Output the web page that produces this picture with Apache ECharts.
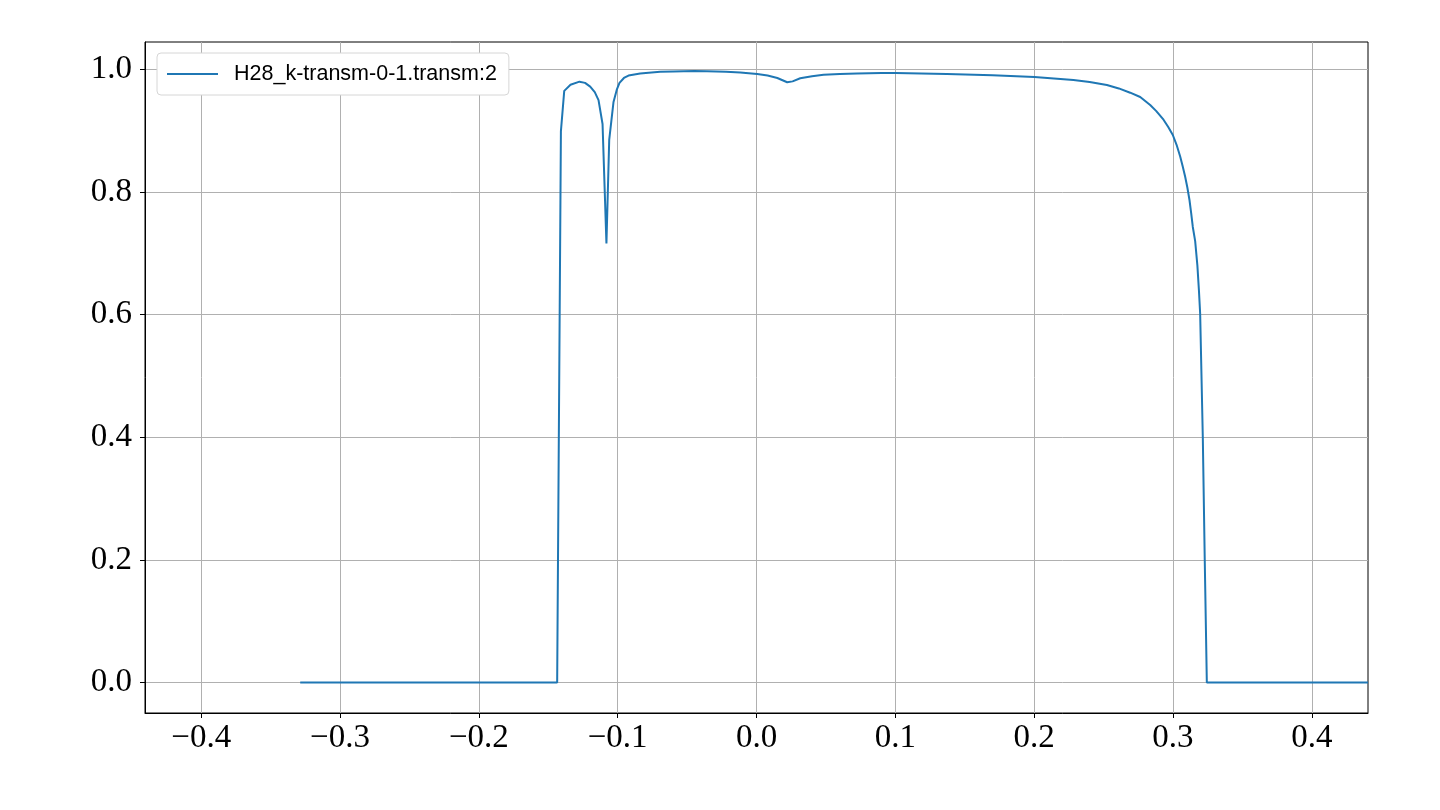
<!DOCTYPE html>
<html>
<head>
<meta charset="utf-8">
<script src="https://cdn.jsdelivr.net/npm/echarts@6/dist/echarts.min.js"></script>
<style>
html,body{margin:0;padding:0;background:#fff;}
#chart{width:1440px;height:810px;}
</style>
</head>
<body>
<div id="chart"></div>
<script>
// Series data
const seriesName = 'H28_k-transm-0-1.transm:2';
const xValues = [
  -0.3287, -0.1436, -0.1409, -0.1385, -0.1340, -0.1275, -0.1235, -0.1198, -0.1165, -0.1138,
  -0.1109, -0.1081, -0.1061, -0.1030, -0.1005, -0.0987, -0.0955, -0.0922, -0.0838, -0.0694,
  -0.0598, -0.0450, -0.0357, -0.0220, -0.0117, 0.0005, 0.0080, 0.0150, 0.0221, 0.0260,
  0.0315, 0.0400, 0.0483, 0.0600, 0.0724, 0.0900, 0.1000, 0.1371, 0.1700, 0.2002,
  0.2283, 0.2400, 0.2524, 0.2610, 0.2692, 0.2764, 0.2836, 0.2880, 0.2932, 0.2966,
  0.2999, 0.3026, 0.3052, 0.3070, 0.3088, 0.3104, 0.3119, 0.3131, 0.3143, 0.3160,
  0.3176, 0.3187, 0.3196, 0.3215, 0.3229, 0.3244, 0.4405
];
const transm = [
  0, 0, 0.899, 0.965, 0.975, 0.980, 0.978, 0.972, 0.963, 0.950,
  0.911, 0.716, 0.885, 0.947, 0.968, 0.978, 0.986, 0.990, 0.9935, 0.996,
  0.9967, 0.9972, 0.997, 0.9963, 0.9951, 0.9925, 0.990, 0.986, 0.979, 0.9805,
  0.9855, 0.989, 0.9912, 0.9927, 0.9935, 0.994, 0.994, 0.9925, 0.9905, 0.9875,
  0.9828, 0.9795, 0.9745, 0.969, 0.962, 0.955, 0.942, 0.932, 0.918, 0.906,
  0.893, 0.877, 0.858, 0.842, 0.825, 0.807, 0.787, 0.766, 0.743, 0.720,
  0.680, 0.640, 0.601, 0.400, 0.200, 0, 0
];
const xTicks = [-0.4, -0.3, -0.2, -0.1, 0.0, 0.1, 0.2, 0.3, 0.4];
const yTicks = [0.0, 0.2, 0.4, 0.6, 0.8, 1.0];

const pts = xValues.map((x, i) => [x, transm[i]]);
const fmt = v => (v < 0 ? '\u2212' : '') + Math.abs(v).toFixed(1);

const chart = echarts.init(document.getElementById('chart'), null, {renderer: 'canvas'});
chart.setOption({
  animation: false,
  backgroundColor: '#fff',
  grid: {
    left: 145, top: 42, width: 1223, height: 671,
    show: true, borderColor: '#000', borderWidth: 1, backgroundColor: 'transparent'
  },
  legend: {
    left: 157, top: 53,
    padding: [10, 12, 10, 10],
    backgroundColor: '#fff',
    borderColor: '#d6d6d6', borderWidth: 1, borderRadius: 4,
    itemWidth: 51, itemHeight: 22,
    textStyle: {fontFamily: 'Liberation Sans', fontSize: 21.5, color: '#000', padding: [0, 0, 0, 11], lineHeight: 22},
    data: [{name: seriesName, icon: 'path://M0,10 L51,10 L51,12 L0,12 Z'}]
  },
  xAxis: {
    type: 'value', min: -0.4405, max: 0.4405,
    axisLine: {show: true, onZero: false, lineStyle: {color: '#000', width: 1}},
    axisTick: {show: true, length: 5, lineStyle: {color: '#000', width: 1}, customValues: xTicks},
    axisLabel: {customValues: xTicks, formatter: fmt, margin: 9, color: '#000',
      fontFamily: 'Liberation Serif', fontSize: 33},
    splitLine: {show: true, lineStyle: {color: '#b0b0b0', width: 1}}
  },
  yAxis: {
    type: 'value', min: -0.0497, max: 1.0447,
    axisLine: {show: true, onZero: false, lineStyle: {color: '#000', width: 1}},
    axisTick: {show: true, length: 5, lineStyle: {color: '#000', width: 1}, customValues: yTicks},
    axisLabel: {customValues: yTicks, formatter: fmt, margin: 13, color: '#000',
      fontFamily: 'Liberation Serif', fontSize: 33},
    splitLine: {show: true, lineStyle: {color: '#b0b0b0', width: 1}}
  },
  series: [{
    name: seriesName,
    type: 'line',
    data: pts,
    symbol: 'none',
    lineStyle: {color: '#1f77b4', width: 2},
    itemStyle: {color: '#1f77b4'}
  }]
});
</script>
</body>
</html>
